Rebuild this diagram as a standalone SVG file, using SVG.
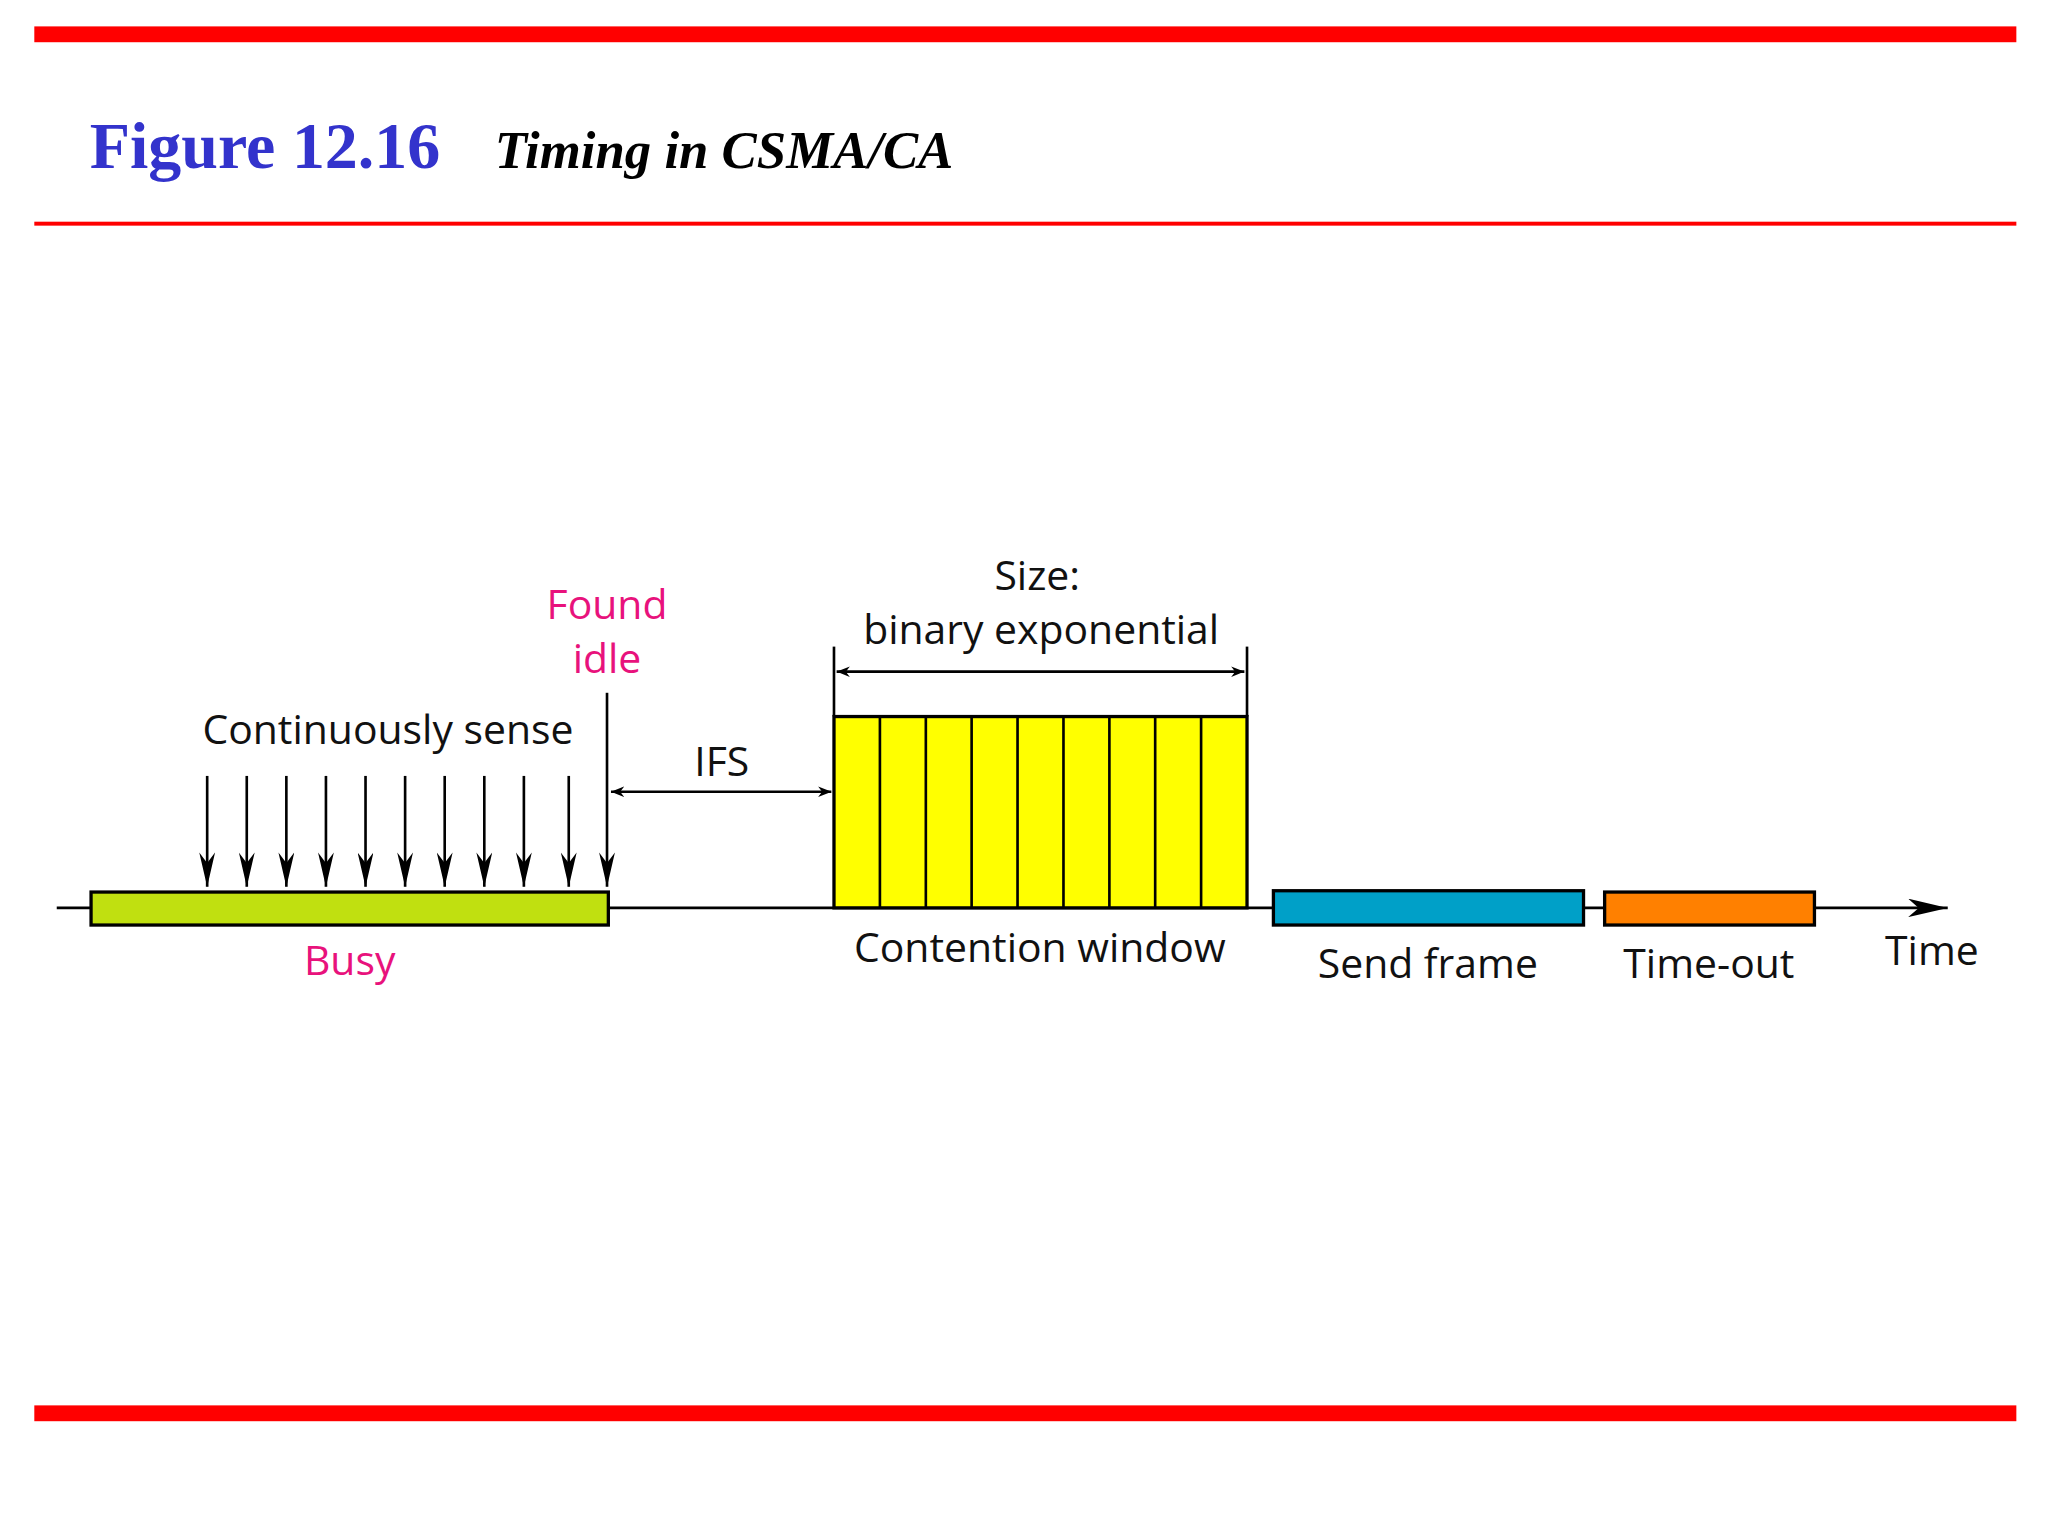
<svg xmlns="http://www.w3.org/2000/svg" width="2048" height="1536" viewBox="0 0 2048 1536">
<defs>
<marker id="ah" viewBox="0 0 10 10" refX="10" refY="5" markerWidth="10" markerHeight="10" markerUnits="userSpaceOnUse" orient="auto-start-reverse"><path d="M0,1 L10,5 L0,9 L3,5 Z" fill="#000"/></marker>
<marker id="big" viewBox="0 0 12 26" refX="6" refY="26" markerWidth="12" markerHeight="26" markerUnits="userSpaceOnUse" orient="0"><path d="M0,0 L6,8 L12,0 L6,26 Z" fill="#000"/></marker>
<marker id="tarr" viewBox="0 0 30 14" refX="30" refY="7" markerWidth="30" markerHeight="14" markerUnits="userSpaceOnUse" orient="auto"><path d="M0,0 L30,7 L0,14 L8,7 Z" fill="#000"/></marker>
</defs>
<style>
.t{font-family:"Open Sans","Noto Sans",sans-serif;font-size:31px;fill:#111}
.p{fill:#e8127c}
.bx{stroke:#000;stroke-width:2.5}
.ln{stroke:#000;stroke-width:2;fill:none}
</style>
<rect width="2048" height="1536" fill="#fff"/>
<g transform="scale(1.3196)">
<g id="frame">
<rect x="26" y="20" width="1502" height="12" fill="#ff0000"/>
<rect x="26" y="168" width="1502" height="3" fill="#ff0000"/>
<rect x="26" y="1065" width="1502" height="12" fill="#ff0000"/>
<text x="68" y="127" font-family="Liberation Serif,serif" font-weight="bold" font-size="50" fill="#3333cc">Figure 12.16</text>
<text x="375" y="127" font-family="Liberation Serif,serif" font-weight="bold" font-style="italic" font-size="40" fill="#000">Timing in CSMA/CA</text>
</g>
<g id="connectors">
<line class="ln" x1="43" y1="688" x2="1476" y2="688" marker-end="url(#tarr)"/>
<line class="ln" x1="460" y1="525" x2="460" y2="672" marker-end="url(#big)"/>
<g marker-end="url(#big)" class="ln">
<line x1="157" y1="588" x2="157" y2="672"/><line x1="187" y1="588" x2="187" y2="672"/>
<line x1="217" y1="588" x2="217" y2="672"/><line x1="247" y1="588" x2="247" y2="672"/>
<line x1="277" y1="588" x2="277" y2="672"/><line x1="307" y1="588" x2="307" y2="672"/>
<line x1="337" y1="588" x2="337" y2="672"/><line x1="367" y1="588" x2="367" y2="672"/>
<line x1="397" y1="588" x2="397" y2="672"/><line x1="431" y1="588" x2="431" y2="672"/>
</g>
<line class="ln" x1="463" y1="600" x2="630" y2="600" marker-start="url(#ah)" marker-end="url(#ah)"/>
<line class="ln" x1="632" y1="490" x2="632" y2="543"/>
<line class="ln" x1="945" y1="490" x2="945" y2="543"/>
<line class="ln" x1="634" y1="509" x2="943" y2="509" marker-start="url(#ah)" marker-end="url(#ah)"/>
</g>
<g id="busy">
<rect class="bx" x="69" y="676" width="392" height="25" fill="#c0e010"/>
<text class="t p" x="265" y="739" text-anchor="middle">Busy</text>
</g>
<g id="found-idle">
<text class="t p" x="460" y="469" text-anchor="middle">Found</text>
<text class="t p" x="460" y="510" text-anchor="middle">idle</text>
</g>
<text class="t" x="294" y="564" text-anchor="middle">Continuously sense</text>
<text class="t" x="547" y="588" text-anchor="middle">IFS</text>
<g id="contention">
<rect class="bx" x="632" y="543" width="313" height="145" fill="#ffff00"/>
<g class="ln"><line x1="666.8" y1="543" x2="666.8" y2="688"/><line x1="701.6" y1="543" x2="701.6" y2="688"/><line x1="736.3" y1="543" x2="736.3" y2="688"/><line x1="771.1" y1="543" x2="771.1" y2="688"/><line x1="805.9" y1="543" x2="805.9" y2="688"/><line x1="840.7" y1="543" x2="840.7" y2="688"/><line x1="875.4" y1="543" x2="875.4" y2="688"/><line x1="910.2" y1="543" x2="910.2" y2="688"/></g>
<text class="t" x="786" y="447" text-anchor="middle">Size:</text>
<text class="t" x="789" y="488" text-anchor="middle">binary exponential</text>
<text class="t" x="788" y="729" text-anchor="middle">Contention window</text>
</g>
<g id="send">
<rect class="bx" x="965" y="675" width="235" height="26" fill="#00a0c8"/>
<text class="t" x="1082" y="741" text-anchor="middle">Send frame</text>
</g>
<g id="timeout">
<rect class="bx" x="1216" y="676" width="159" height="25" fill="#ff8000"/>
<text class="t" x="1295" y="741" text-anchor="middle">Time-out</text>
</g>
<text class="t" x="1464" y="731" text-anchor="middle">Time</text>
</g>
</svg>
